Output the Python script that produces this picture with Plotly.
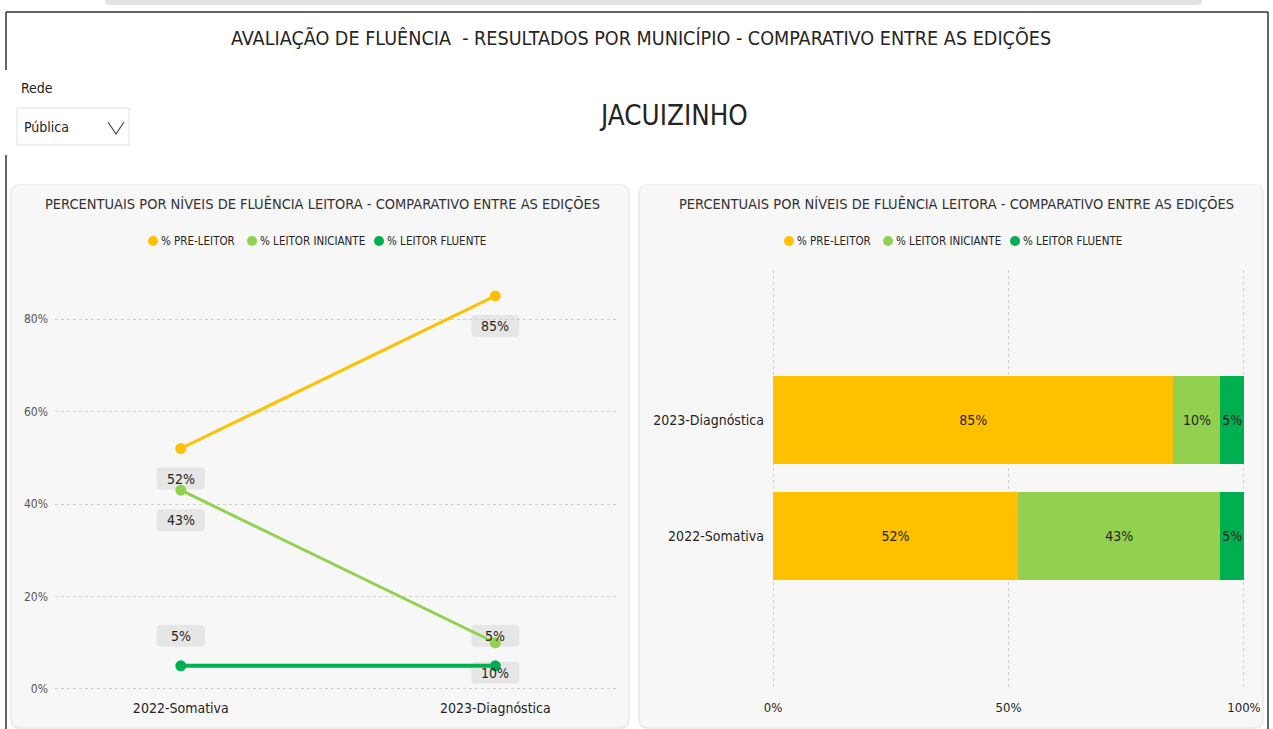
import plotly.graph_objects as go

# ---------------- data ----------------
categories = ["2022-Somativa", "2023-Diagnóstica"]
series_names = ["% PRE-LEITOR", "% LEITOR INICIANTE", "% LEITOR FLUENTE"]
pre_leitor = [52, 85]
leitor_iniciante = [43, 10]
leitor_fluente = [5, 5]
label_pos = ["below", "below", "above"]
colors = ["#FFC000", "#92D050", "#00B050"]
y_ticks = [0, 20, 40, 60, 80]
x_ticks_bar = [0, 50, 100]

main_title = "AVALIAÇÃO DE FLUÊNCIA  - RESULTADOS POR MUNICÍPIO - COMPARATIVO ENTRE AS EDIÇÕES"
municipio = "JACUIZINHO"
chart_title = "PERCENTUAIS POR NÍVEIS DE FLUÊNCIA LEITORA - COMPARATIVO ENTRE AS EDIÇÕES"
slicer_label = "Rede"
slicer_value = "Pública"

W, H = 1273, 729
FONT = "DejaVu Sans Condensed, Liberation Sans Narrow, Arial Narrow, sans-serif"
TXT = "#252423"


def px(x):
    return x / W


def py(y):
    return 1 - y / H


def rr(x0, y0, x1, y1, r):
    def P(x, y):
        return f"{px(x):.5f},{py(y):.5f}"
    return (f"M {P(x0 + r, y0)} L {P(x1 - r, y0)} Q {P(x1, y0)} {P(x1, y0 + r)} "
            f"L {P(x1, y1 - r)} Q {P(x1, y1)} {P(x1 - r, y1)} L {P(x0 + r, y1)} "
            f"Q {P(x0, y1)} {P(x0, y1 - r)} L {P(x0, y0 + r)} Q {P(x0, y0)} {P(x0 + r, y0)} Z")


def rr_pix(x0, y0, x1, y1, r):
    # rounded rect path in pixel offsets (y up)
    return (f"M {x0 + r},{y0} L {x1 - r},{y0} Q {x1},{y0} {x1},{y0 + r} "
            f"L {x1},{y1 - r} Q {x1},{y1} {x1 - r},{y1} L {x0 + r},{y1} "
            f"Q {x0},{y1} {x0},{y1 - r} L {x0},{y0 + r} Q {x0},{y0} {x0 + r},{y0} Z")


series_values = [pre_leitor, leitor_iniciante, leitor_fluente]

fig = go.Figure()

# ---- left: line chart ----
for name, vals, col in zip(series_names, series_values, colors):
    fig.add_trace(go.Scatter(
        x=categories, y=vals, mode="lines+markers", name=name,
        line=dict(color=col, width=4 if col == "#00B050" else 3),
        marker=dict(color=col, size=11), showlegend=False,
        xaxis="x", yaxis="y", cliponaxis=False))

# ---- right: 100% stacked bars ----
for name, vals, col in zip(series_names, series_values, colors):
    fig.add_trace(go.Bar(
        y=categories, x=vals, orientation="h", name=name,
        marker=dict(color=col, line=dict(width=0)),
        text=[f"{v}%" for v in vals], textposition="inside", textangle=0,
        insidetextanchor="middle",
        textfont=dict(family=FONT, size=14, color=TXT),
        showlegend=False, xaxis="x2", yaxis="y2", width=0.76))

shapes = []

# ---- data labels on the line chart (rounded grey boxes under the markers) ----
for name, vals, pos in zip(series_names, series_values, label_pos):
    for i, (c, v) in enumerate(zip(categories, vals)):
        shift = 30 if pos == "above" else -30
        shapes.append(dict(type="path", xref="x", yref="y",
                           xsizemode="pixel", ysizemode="pixel",
                           xanchor=i, yanchor=v,
                           path=rr_pix(-24, shift - 11, 24, shift + 11, 4),
                           fillcolor="#E6E6E6", line=dict(width=0), layer="below"))
        fig.add_annotation(
            x=c, y=v, xref="x", yref="y", text=f"{v}%", showarrow=False,
            yshift=shift, xanchor="center", yanchor="middle",
            font=dict(family=FONT, size=14, color=TXT))

# top scrollbar
shapes.append(dict(type="path", xref="paper", yref="paper",
                   path=rr(105, -6, 1202, 5, 5), fillcolor="#E3E3E3", line=dict(width=0)))
# page borders
for (x0, y0, x1, y1) in [(6, 12, 1268, 12), (6, 12, 6, 70), (6, 155, 6, 729), (1268, 12, 1268, 729)]:
    shapes.append(dict(type="line", xref="paper", yref="paper",
                       x0=px(x0), y0=py(y0), x1=px(x1), y1=py(y1),
                       line=dict(color="#333333", width=1.5)))
# cards (shadow + card)
for (x0, y0, x1, y1) in [(12, 185, 628, 727), (640, 185, 1262, 727)]:
    shapes.append(dict(type="path", xref="paper", yref="paper", layer="below",
                       path=rr(x0 - 2, y0 - 1, x1 + 2, y1 + 2, 10),
                       fillcolor="rgba(0,0,0,0.07)", line=dict(width=0)))
    shapes.append(dict(type="path", xref="paper", yref="paper", layer="below",
                       path=rr(x0, y0, x1, y1, 9),
                       fillcolor="#F7F7F7", line=dict(width=0)))
# dropdown box
shapes.append(dict(type="rect", xref="paper", yref="paper",
                   x0=px(17), y0=py(145), x1=px(129), y1=py(108),
                   fillcolor="white", line=dict(color="#E1E1E1", width=1)))
shapes.append(dict(type="path", xref="paper", yref="paper",
                   path=f"M {px(108)},{py(122)} L {px(116)},{py(134)} L {px(124)},{py(122)}",
                   line=dict(color="#444444", width=1.2)))

annotations = [
    dict(x=px(641), y=py(38), text=main_title, font=dict(family=FONT, size=19.6, color=TXT)),
    dict(x=px(673), y=py(115), text=municipio, font=dict(family=FONT, size=27.5, color=TXT)),
    dict(x=px(19), y=py(88), text=slicer_label, xanchor="left",
         font=dict(family=FONT, size=14, color=TXT)),
    dict(x=px(22), y=py(127), text=slicer_value, xanchor="left",
         font=dict(family=FONT, size=14, color=TXT)),
    dict(x=px(322), y=py(203), text=chart_title, font=dict(family=FONT, size=14.5, color="#333333")),
    dict(x=px(956), y=py(203), text=chart_title, font=dict(family=FONT, size=14.5, color="#333333")),
]
for a in annotations:
    a.setdefault("xanchor", "center")
    fig.add_annotation(showarrow=False, xref="paper", yref="paper", yanchor="middle", **a)

# ---- legends (Power BI style: dot + label) ----
legend_dots_left = [153, 252, 379]
for offset in (0, 636):
    for name, col, cx in zip(series_names, colors, legend_dots_left):
        x = cx + offset
        shapes.append(dict(type="circle", xref="paper", yref="paper",
                           x0=px(x - 5), x1=px(x + 5), y0=py(246), y1=py(236),
                           fillcolor=col, line=dict(width=0)))
        fig.add_annotation(x=px(x + 6), y=py(241), text=name, showarrow=False,
                           xref="paper", yref="paper", xanchor="left", yanchor="middle",
                           font=dict(family=FONT, size=11.5, color=TXT))

fig.update_layout(
    width=W, height=H, margin=dict(l=0, r=0, t=0, b=0, autoexpand=False),
    paper_bgcolor="white", plot_bgcolor="rgba(0,0,0,0)",
    font=dict(family=FONT, color=TXT),
    barmode="stack", showlegend=False,
    shapes=shapes,
    uniformtext=dict(minsize=14, mode="show"),
    xaxis=dict(domain=[px(55), px(618)], type="category", range=[-0.4, 1.39],
               showgrid=False, zeroline=False, showline=False, ticks="",
               tickfont=dict(family=FONT, size=14, color=TXT), anchor="y",
               ticklabelstandoff=6, automargin=False),
    yaxis=dict(domain=[py(692), py(270)], range=[-0.65, 90.6],
               tickvals=y_ticks, ticktext=[f"{v}%" for v in y_ticks],
               showgrid=True, gridcolor="#CFCFCF", griddash="dot", gridwidth=1,
               zeroline=False, showline=False, ticks="",
               tickfont=dict(family=FONT, size=12, color="#555555"), anchor="x",
               ticklabelstandoff=6, automargin=False),
    xaxis2=dict(domain=[px(770), px(1247)], range=[-0.64, 100.64],
                tickvals=x_ticks_bar, ticktext=[f"{v}%" for v in x_ticks_bar],
                showgrid=True, gridcolor="#CFCFCF", griddash="dot", gridwidth=1,
                zeroline=False, showline=False, ticks="",
                tickfont=dict(family=FONT, size=13, color=TXT), anchor="y2",
                ticklabelstandoff=8, automargin=False),
    yaxis2=dict(domain=[py(690), py(270)], type="category", range=[-1.33, 2.29],
                categoryorder="array", categoryarray=categories,
                showgrid=False, zeroline=False, showline=False, ticks="",
                tickfont=dict(family=FONT, size=14, color=TXT), anchor="x2",
                ticklabelstandoff=5, automargin=False),
)

fig.write_html(
    "out.html",
    config={"displayModeBar": False},
    post_script="document.body.style.margin='0';document.body.style.overflow='hidden';",
)
